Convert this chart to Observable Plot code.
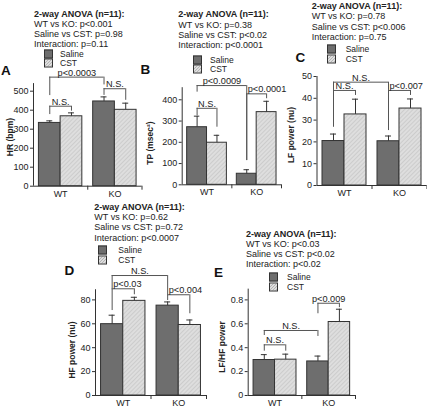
<!DOCTYPE html>
<html><head><meta charset="utf-8">
<script src="https://cdn.jsdelivr.net/npm/d3@7"></script>
<script src="https://cdn.jsdelivr.net/npm/@observablehq/plot@0.6"></script>
<style>
html,body{margin:0;padding:0;background:#fff;}
#fig{position:relative;width:427px;height:407px;overflow:hidden;font-family:"Liberation Sans",Arial,sans-serif;color:#222;}
.t{position:absolute;white-space:nowrap;line-height:1;transform:translateY(-50%);}
.sw{position:absolute;width:7px;height:7px;border:1px solid #333;transform:translateY(-50%);}
.yt{position:absolute;white-space:nowrap;line-height:1;font-weight:bold;font-size:8.5px;transform:translate(-50%,-50%) rotate(-90deg);}
</style></head><body>
<svg width="0" height="0" style="position:absolute"><defs>
<pattern id="hatch" patternUnits="userSpaceOnUse" width="3" height="3" patternTransform="rotate(45)">
<rect width="3" height="3" fill="#dedede"/><line x1="0" y1="0" x2="0" y2="3" stroke="#b3b3b3" stroke-width="0.8"/>
</pattern></defs></svg>
<div id="fig"></div>
<script>
// ---- data ----
const genotypes = ["WT", "KO"];
const treatments = ["Saline", "CST"];
const anovaTitle = "2-way ANOVA (n=11):";

// order: WT-Saline, WT-CST, KO-Saline, KO-CST
const hrMean = [333, 368, 446, 402];
const hrSem = [11, 18, 24, 35];
const tpMean = [271, 198, 52, 342];
const tpSem = [52, 35, 19, 51];
const lfMean = [20.4, 32.6, 20.3, 35.3];
const lfSem = [3.2, 7.0, 2.4, 4.4];
const hfMean = [59.7, 79.2, 75.2, 59.0];
const hfSem = [7.5, 3.0, 3.1, 4.2];
const lfhfMean = [0.297, 0.300, 0.285, 0.615];
const lfhfSem = [0.045, 0.046, 0.045, 0.107];

const hrTicks = [0, 100, 200, 300, 400, 500];
const tpTicks = [0, 100, 200, 300, 400];
const lfTicks = [0, 10, 20, 30, 40, 50];
const hfTicks = [0, 20, 40, 60, 80];
const lfhfTicks = [0, 0.2, 0.4, 0.6, 0.8];

const anovaA = ["WT vs KO: p<0.001", "Saline vs CST: p=0.98", "Interaction: p=0.11"];
const anovaB = ["WT vs KO: p=0.38", "Saline vs CST: p<0.02", "Interaction: p<0.0001"];
const anovaC = ["WT vs KO: p=0.78", "Saline vs CST: p<0.006", "Interaction: p=0.75"];
const anovaD = ["WT vs KO: p=0.62", "Saline vs CST: p=0.72", "Interaction: p<0.0007"];
const anovaE = ["WT vs KO: p<0.03", "Saline vs CST: p<0.02", "Interaction: p<0.02"];

// significance brackets: from/to bar index, level, left/right leg ends (data units)
const bracketsA = [
  {from: 0, to: 2, level: 574, l: 477, r: 533, label: "p<0.0003", anchor: "middle"},
  {from: 0, to: 1, level: 421, l: 377, r: 395, label: "N.S.", anchor: "middle"},
  {from: 2, to: 3, level: 513, l: 478, r: 452, label: "N.S.", anchor: "middle"}
];
const bracketsB = [
  {from: 0, to: 2, level: 467, l: 436, r: 114, label: "p<0.0009", anchor: "middle"},
  {from: 0, to: 1, level: 360, l: 326, r: 271, label: "N.S.", anchor: "middle"},
  {from: 2, to: 3, level: 428, l: 114, r: 405, label: "p<0.0001", anchor: "start"}
];
const bracketsC = [
  {from: 0, to: 2, level: 47.4, l: 43.6, r: 43.6, label: "N.S.", anchor: "middle"},
  {from: 0, to: 1, level: 43.6, l: 26.7, r: 41.3, label: "N.S.", anchor: "middle"},
  {from: 2, to: 3, level: 43.6, l: 25.2, r: 41.3, label: "p<0.007", anchor: "start"}
];
const bracketsD = [
  {from: 0, to: 2, level: 100.4, l: 89.3, r: 84.3, label: "N.S.", anchor: "middle"},
  {from: 0, to: 1, level: 89.3, l: 71.1, r: 84.3, label: "p<0.03", anchor: "start"},
  {from: 2, to: 3, level: 84.3, l: 79.5, r: 68.4, label: "p<0.004", anchor: "start"}
];
const bracketsE = [
  {from: 2, to: 3, level: 0.772, l: 0.684, r: 0.735, label: "p<0.009", anchor: "middle"},
  {from: 0, to: 2, level: 0.544, l: 0.502, r: 0.494, label: "N.S.", anchor: "middle"},
  {from: 0, to: 1, level: 0.424, l: 0.371, r: 0.371, label: "N.S.", anchor: "middle"}
];

// ---- layout (pixel placement of each panel) ----
const W = 427, H = 407;
const panels = [
  {letter: "A", title: "HR (bpm)", mean: hrMean, sem: hrSem, ticks: hrTicks, br: bracketsA, anova: anovaA, axTop: 540,
   a0: 33, a1: 141.5, y0: 185.7, ppu: 0.19, tx: 34, ty: 13.5, lx: 44, ly: [54, 63.3], ltx: 60, Lx: 1, Ly: 70.5, ytx: 10, yty: 136.7},
  {letter: "B", title: "TP (msec\u00b2)", mean: tpMean, sem: tpSem, ticks: tpTicks, br: bracketsB, anova: anovaB, axTop: 457,
   a0: 181.7, a1: 281, y0: 184.3, ppu: 0.2125, tx: 178.3, ty: 14.3, lx: 193.3, ly: [60.4, 69.3], ltx: 210, Lx: 140.5, Ly: 70, ytx: 150, yty: 143.3},
  {letter: "C", title: "LF power (nu)", mean: lfMean, sem: lfSem, ticks: lfTicks, br: bracketsC, anova: anovaC, axTop: 50,
   a0: 316.5, a1: 426.5, y0: 185, ppu: 2.18, tx: 311.7, ty: 6, lx: 326.7, ly: [49.2, 59.2], ltx: 345.7, Lx: 295.5, Ly: 58.3, ytx: 291.3, yty: 135},
  {letter: "D", title: "HF power (nu)", mean: hfMean, sem: hfSem, ticks: hfTicks, br: bracketsD, anova: anovaD, axTop: 88.5,
   a0: 95, a1: 206, y0: 395, ppu: 1.195, tx: 94.3, ty: 206.7, lx: 97.7, ly: [249.5, 259.7], ltx: 118.3, Lx: 64.5, Ly: 271.3, ytx: 71.7, yty: 350},
  {letter: "E", title: "LF/HF power", mean: lfhfMean, sem: lfhfSem, ticks: lfhfTicks, br: bracketsE, anova: anovaE, axTop: 0.89,
   a0: 247.7, a1: 355, y0: 395, ppu: 119.5, tx: 246, ty: 233.5, lx: 269.3, ly: [276.7, 286.7], ltx: 287, Lx: 214, Ly: 273, ytx: 221.7, yty: 346.7,
   fmt: d => d === 0 ? "0" : d.toFixed(1)}
];

const ink = "#333", brInk = "#555", salineFill = "#6e6e6e", cstFill = "url(#hatch)";
const cstCss = "repeating-linear-gradient(135deg, #b3b3b3 0 0.8px, #dedede 0.8px 2.1px)";
const BW = 0.4; // bar width (slot units)
const ctr = i => Math.floor(i / 2) + 0.1 + (i % 2) * BW + BW / 2;

const fig = document.getElementById("fig");

function makePanel(p) {
  const rows = [];
  genotypes.forEach((g, gi) => treatments.forEach((t, ti) => {
    const i = gi * 2 + ti;
    rows.push({g, t, i, mean: p.mean[i], sem: p.sem[i]});
  }));
  const x1 = d => Math.floor(d.i / 2) + 0.1 + (d.i % 2) * BW;
  const x2 = d => x1(d) + BW;
  const top = p.y0 / p.ppu;
  const txtMid = p.br.filter(d => d.anchor === "middle");
  const txtStart = p.br.filter(d => d.anchor === "start");
  const svg = Plot.plot({
    width: W, height: H,
    marginLeft: p.a0, marginRight: W - p.a1, marginTop: 0, marginBottom: H - p.y0,
    x: {domain: [0, 2]},
    y: {domain: [0, top]},
    style: {background: "transparent", position: "absolute", left: "0px", top: "0px", overflow: "visible",
            fontFamily: "'Liberation Sans', Arial, sans-serif", fontSize: "9px", color: "#222"},
    marks: [
      Plot.rectY(rows.filter(d => d.t === "Saline"), {x1, x2, y1: 0, y2: "mean", fill: salineFill, stroke: ink, strokeWidth: 1}),
      Plot.rectY(rows.filter(d => d.t === "CST"), {x1, x2, y1: 0, y2: "mean", fill: cstFill, stroke: ink, strokeWidth: 1}),
      Plot.ruleX(rows, {x: d => ctr(d.i), y1: "mean", y2: d => d.mean + d.sem, stroke: ink}),
      Plot.ruleY(rows, {y: d => d.mean + d.sem, x1: d => ctr(d.i) - 0.055, x2: d => ctr(d.i) + 0.055, stroke: ink}),
      // brackets
      Plot.ruleY(p.br, {y: "level", x1: d => ctr(d.from), x2: d => ctr(d.to), stroke: brInk}),
      Plot.ruleX(p.br, {x: d => ctr(d.from), y1: "level", y2: "l", stroke: brInk}),
      Plot.ruleX(p.br, {x: d => ctr(d.to), y1: "level", y2: "r", stroke: brInk}),
      Plot.text(txtMid, {x: d => (ctr(d.from) + ctr(d.to)) / 2, y: "level", text: "label", textAnchor: "middle", lineAnchor: "bottom", dy: -1.5, fontSize: 9.2, fill: "#222"}),
      Plot.text(txtStart, {x: d => ctr(d.from), y: "level", text: "label", textAnchor: "start", lineAnchor: "bottom", dy: -1.5, dx: 1, fontSize: 9.2, fill: "#222"}),
      // axes
      Plot.ruleX([0], {y1: 0, y2: p.axTop, stroke: ink}),
      Plot.ruleY([0], {x1: 0, x2: 2, stroke: ink}),
      Plot.axisY({ticks: p.ticks, tickSize: 3, tickPadding: 2, tickFormat: p.fmt || (d => String(d)), label: null, fontSize: 9, stroke: ink, fill: "#222"}),
      Plot.axisX({ticks: [1, 2], tickSize: 4, tickFormat: () => "", label: null, stroke: ink}),
      Plot.axisX({ticks: [0.5, 1.5], tickSize: 0, tickPadding: 4, tickFormat: v => genotypes[Math.floor(v)], label: null, fontSize: 9, fill: "#222"})
    ]
  });
  fig.appendChild(svg);
}

function addDiv(cls, text, x, y, style) {
  const d = document.createElement("div");
  d.className = cls;
  d.textContent = text;
  d.style.left = x + "px";
  d.style.top = y + "px";
  Object.assign(d.style, style || {});
  fig.appendChild(d);
  return d;
}

panels.forEach(makePanel);

panels.forEach(p => {
  const LH = 10.3;
  addDiv("t", anovaTitle, p.tx, p.ty, {fontSize: "9px", fontWeight: "bold"});
  p.anova.forEach((s, k) => addDiv("t", s, p.tx, p.ty + (k + 1) * LH, {fontSize: "9px"}));
  treatments.forEach((t, k) => {
    addDiv("sw", "", p.lx, p.ly[k], {background: k === 0 ? salineFill : cstCss});
    addDiv("t", t, p.ltx, p.ly[k], {fontSize: "8.5px"});
  });
  addDiv("t", p.letter, p.Lx, p.Ly, {fontSize: "13.5px", fontWeight: "bold", color: "#111"});
  addDiv("yt", p.title, p.ytx, p.yty);
});
</script>
</body></html>
